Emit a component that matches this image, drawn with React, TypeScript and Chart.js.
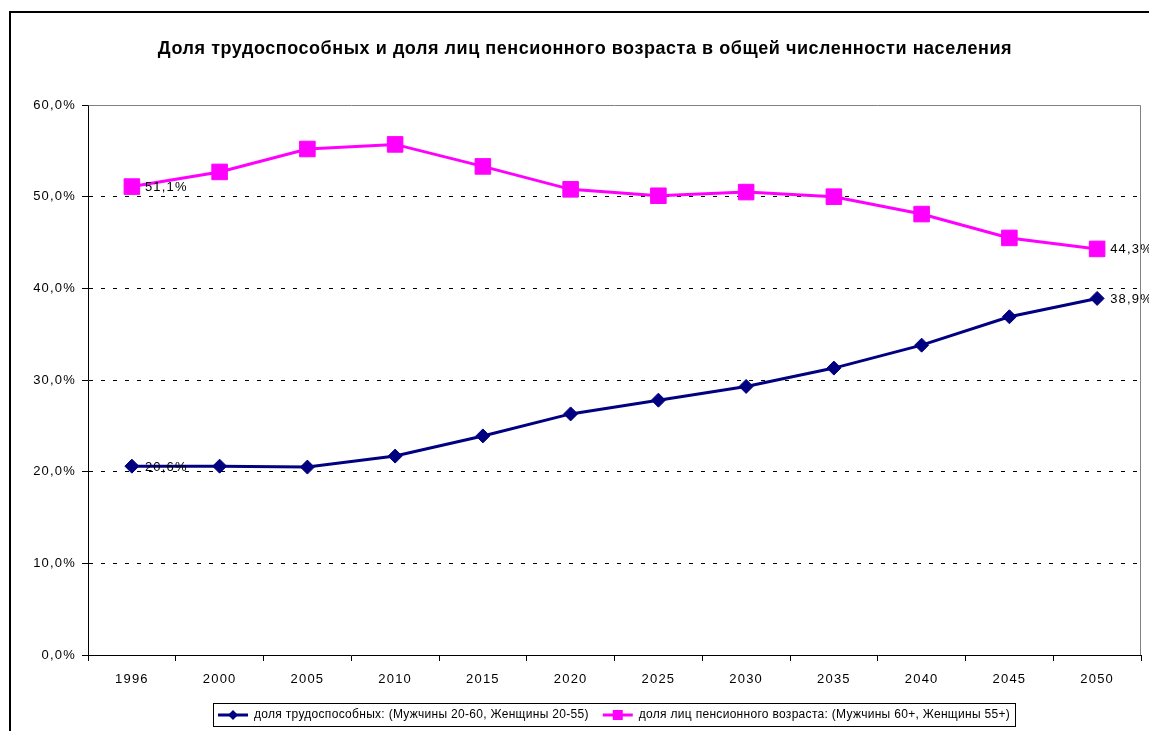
import React, { useEffect, useRef } from 'react';
import { Chart, registerables } from 'chart.js';

Chart.register(...registerables);

const titleText = 'Доля трудоспособных и доля лиц пенсионного возраста в общей численности населения';
const years = ['1996', '2000', '2005', '2010', '2015', '2020', '2025', '2030', '2035', '2040', '2045', '2050'];
const workingAge = [20.6, 20.6, 20.5, 21.7, 23.9, 26.3, 27.8, 29.3, 31.3, 33.8, 36.9, 38.9];
const pensionAge = [51.1, 52.7, 55.2, 55.7, 53.3, 50.8, 50.1, 50.5, 50.0, 48.1, 45.5, 44.3];
const seriesNames = [
  'доля трудоспособных: (Мужчины 20-60, Женщины 20-55)',
  'доля лиц пенсионного возраста: (Мужчины 60+, Женщины 55+)',
];
const seriesColors = ['#000080', '#FF00FF'];
const yMin = 0;
const yMax = 60;
const yStep = 10;

const fmt = (v: number) => v.toFixed(1).replace('.', ',') + '%';
const FONT = '"Liberation Sans", Arial, sans-serif';

function drawMarker(ctx: CanvasRenderingContext2D, kind: string, x: number, y: number, r: number, color: string) {
  ctx.save();
  ctx.fillStyle = color;
  ctx.beginPath();
  if (kind === 'diamond') {
    ctx.moveTo(x, y - r);
    ctx.lineTo(x + r, y);
    ctx.lineTo(x, y + r);
    ctx.lineTo(x - r, y);
    ctx.closePath();
  } else {
    ctx.rect(x - r, y - r, 2 * r, 2 * r);
  }
  ctx.fill();
  ctx.restore();
}

const decorPlugin = {
  id: 'decor',
  beforeDraw(chart: any) {
    const { ctx, width, height } = chart;
    ctx.save();
    ctx.fillStyle = '#fff';
    ctx.fillRect(0, 0, width, height);
    ctx.strokeStyle = '#000';
    ctx.lineWidth = 2;
    ctx.beginPath();
    ctx.moveTo(10, height + 5);
    ctx.lineTo(10, 12);
    ctx.lineTo(width + 5, 12);
    ctx.stroke();
    ctx.restore();
    // spacing for axis tick labels (Excel-like rendering)
    (ctx as any).letterSpacing = '1.2px';
  },
  beforeDatasetsDraw(chart: any) {
    const { ctx, chartArea } = chart;
    ctx.save();
    ctx.strokeStyle = '#808080';
    ctx.lineWidth = 1;
    ctx.beginPath();
    ctx.moveTo(Math.round(chartArea.left) + 0.5, Math.round(chartArea.top) + 0.5);
    ctx.lineTo(Math.round(chartArea.right) - 0.5, Math.round(chartArea.top) + 0.5);
    ctx.lineTo(Math.round(chartArea.right) - 0.5, Math.round(chartArea.bottom));
    ctx.stroke();
    ctx.restore();
  },
  afterDraw(chart: any) {
    const { ctx, chartArea } = chart;
    ctx.save();
    // title
    ctx.fillStyle = '#000';
    ctx.font = `bold 18px ${FONT}`;
    (ctx as any).letterSpacing = '0.55px';
    ctx.textAlign = 'center';
    ctx.textBaseline = 'middle';
    ctx.fillText(titleText, 585, 49);

    // data labels at first and last points
    ctx.font = `13px ${FONT}`;
    (ctx as any).letterSpacing = '1.2px';
    ctx.textAlign = 'left';
    chart.data.datasets.forEach((ds: any, di: number) => {
      const meta = chart.getDatasetMeta(di);
      const n = ds.data.length;
      [0, n - 1].forEach((i) => {
        const el = meta.data[i];
        ctx.fillText(fmt(ds.data[i]), el.x + 13, el.y + 1);
      });
    });

    // legend
    ctx.font = `12px ${FONT}`;
    (ctx as any).letterSpacing = '0.3px';
    const lineLen = 30;
    const padL = 5;
    const gapText = 6;
    const gapItem = 14;
    const w0 = ctx.measureText(seriesNames[0]).width;
    const w1 = ctx.measureText(seriesNames[1]).width;
    const total = padL + lineLen + gapText + w0 + gapItem + lineLen + gapText + w1 + padL;
    const cx = (chartArea.left + chartArea.right) / 2;
    const bx = Math.round(cx - total / 2);
    const by = 703;
    const bh = 23;
    ctx.strokeStyle = '#000';
    ctx.lineWidth = 1;
    ctx.strokeRect(bx + 0.5, by + 0.5, Math.round(total), bh);
    const my = by + bh / 2 + 0.5;
    let x = bx + padL;
    const kinds = ['diamond', 'square'];
    [w0, w1].forEach((w, i) => {
      ctx.strokeStyle = seriesColors[i];
      ctx.lineWidth = 3;
      ctx.beginPath();
      ctx.moveTo(x, my);
      ctx.lineTo(x + lineLen, my);
      ctx.stroke();
      drawMarker(ctx, kinds[i], x + lineLen / 2, my, 5, seriesColors[i]);
      ctx.fillStyle = '#000';
      ctx.textAlign = 'left';
      ctx.textBaseline = 'middle';
      ctx.fillText(seriesNames[i], x + lineLen + gapText, my);
      x += lineLen + gapText + w + gapItem;
    });
    ctx.restore();
  },
};

export default function App() {
  const ref = useRef<HTMLCanvasElement | null>(null);
  useEffect(() => {
    if (!ref.current) return;
    const chart = new Chart(ref.current, {
      type: 'line',
      data: {
        labels: years,
        datasets: [
          {
            label: seriesNames[0],
            data: workingAge,
            borderColor: seriesColors[0],
            backgroundColor: seriesColors[0],
            borderWidth: 3,
            pointStyle: 'rectRot',
            pointRadius: 7,
            pointHoverRadius: 7,
            pointBorderWidth: 1,
            tension: 0,
          },
          {
            label: seriesNames[1],
            data: pensionAge,
            borderColor: seriesColors[1],
            backgroundColor: seriesColors[1],
            borderWidth: 3,
            pointStyle: 'rect',
            pointRadius: 11,
            pointHoverRadius: 11,
            pointBorderWidth: 1,
            tension: 0,
          },
        ],
      },
      options: {
        responsive: false,
        animation: false,
        events: [],
        layout: { autoPadding: false, padding: { top: 105, right: 8, bottom: 36, left: 0 } },
        plugins: {
          legend: { display: false },
          title: { display: false },
          tooltip: { enabled: false },
        },
        scales: {
          x: {
            type: 'category',
            offset: true,
            grid: {
              offset: true,
              drawOnChartArea: false,
              drawTicks: true,
              tickLength: 6,
              color: '#000',
              tickColor: '#000',
            },
            border: { display: true, color: '#000', width: 1 },
            ticks: {
              color: '#000',
              font: { family: FONT, size: 13 },
              padding: 11,
              maxRotation: 0,
              autoSkip: false,
            },
            afterFit: (scale: any) => {
              scale.height = 40;
              scale.paddingLeft = 0;
              scale.paddingRight = 0;
            },
          },
          y: {
            min: yMin,
            max: yMax,
            ticks: {
              stepSize: yStep,
              color: '#000',
              font: { family: FONT, size: 13 },
              padding: 6,
              callback: (v: any) => fmt(Number(v)),
            },
            grid: {
              color: (c: any) =>
                c.tick && (c.tick.value === yMin || c.tick.value === yMax) ? 'rgba(0,0,0,0)' : '#000',
              tickColor: '#000',
              tickLength: 6,
              lineWidth: 1,
            },
            border: { display: true, color: '#000', width: 1, dash: [4, 8] },
            afterFit: (scale: any) => {
              scale.width = 88;
              scale.paddingTop = 0;
              scale.paddingBottom = 0;
            },
          },
        },
      },
      plugins: [decorPlugin],
    });
    return () => chart.destroy();
  }, []);
  return (
    <div style={{ position: 'absolute', left: 0, top: 0, width: 1149, height: 731, background: '#fff' }}>
      <canvas ref={ref} width={1149} height={731} />
    </div>
  );
}
